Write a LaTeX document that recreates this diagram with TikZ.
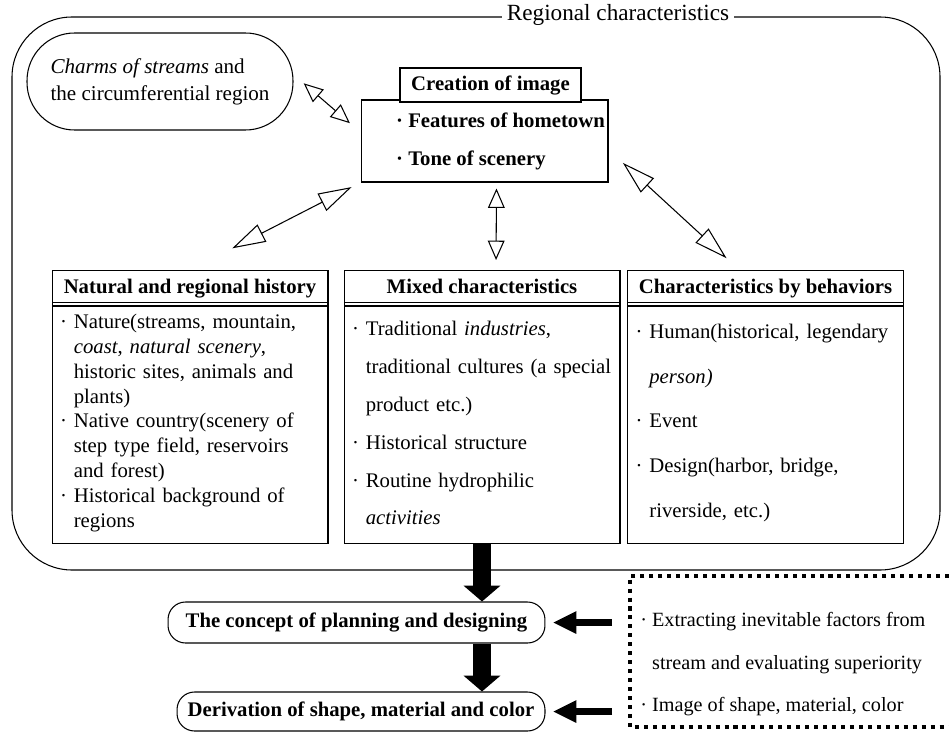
\documentclass[tikz,border=0pt]{standalone}
\usepackage{fontspec}
\setmainfont{Liberation Serif}
\usepackage{tikz}
\usetikzlibrary{arrows.meta, calc}

\newcommand{\itemdot}{·\ }
\newcommand{\itemcont}{\phantom{·}\ }

\begin{document}
\begin{tikzpicture}[
  x=0.02cm, y=-0.02cm,
  font=\fontsize{11.8}{14.2}\selectfont,
  region/.style   = {draw, line width=0.6pt, rounded corners=1.2cm},
  pill/.style     = {draw, line width=0.6pt, rounded corners=0.35cm,
                     font=\fontsize{11.8}{14.2}\selectfont\bfseries},
  hbox/.style     = {draw, line width=0.6pt, anchor=north, minimum width=5.52cm,
                     minimum height=0.71cm, text height=8.5pt, text depth=2.6pt,
                     font=\fontsize{11.8}{14.2}\selectfont\bfseries},
  bbox/.style     = {draw, line width=0.6pt, anchor=north, align=left,
                     text width=5.2cm, inner xsep=0.16cm, minimum width=5.52cm,
                     minimum height=4.82cm},
  oarr/.style     = {<->, >={Triangle[open, length=19pt, width=11pt]},
                     line width=0.6pt},
  oarrs/.style    = {<->, >={Triangle[open, length=11pt, width=9.5pt]},
                     line width=0.6pt},
  barr/.style     = {-{Triangle[length=9pt, width=21pt, line width=0pt]},
                     line width=10.8pt},
  larr/.style     = {-{Triangle[length=13pt, width=13pt, line width=0pt]},
                     line width=4pt},
  dotframe/.style = {line width=2.3pt, dash pattern=on 2.3pt off 2.8pt},
]
\useasboundingbox (0,0) rectangle (949,733);

%% outer region
\draw[region] (12,17) rectangle (940,570);
\node[fill=white, inner xsep=3pt, inner ysep=1pt,
      font=\fontsize{13.2}{15}\selectfont] (title) at (618,15)
  {Regional characteristics};

\node[draw, line width=0.6pt, rounded corners=0.95cm, align=left,
      minimum width=5.32cm, minimum height=1.94cm,
      font=\fontsize{12}{15.4}\selectfont] (charms) at (160,81.5)
  {\textit{Charms of streams} and\\the circumferential region};

\node[draw, line width=0.6pt, align=left, inner xsep=0.05cm,
      minimum width=4.94cm, minimum height=1.64cm,
      font=\fontsize{11.8}{21.6}\selectfont\bfseries] (crb) at (484.5,141)
  {\hspace*{0.64cm}\itemdot Features of hometown\\
   \hspace*{0.64cm}\itemdot Tone of scenery};
\node[draw, fill=white, line width=0.6pt, minimum width=3.62cm,
      minimum height=0.68cm,
      font=\fontsize{11.8}{14.2}\selectfont\bfseries] (crt) at (490.5,85)
  {Creation of image};

%% three groups
\node[bbox] (natb) at (190,302)
  {\itemdot Nature(streams, mountain,\\
   \itemcont\textit{coast}, \textit{natural scenery},\\
   \itemcont historic sites, animals and\\
   \itemcont plants)\\
   \itemdot Native country(scenery of\\
   \itemcont step type field, reservoirs\\
   \itemcont and forest)\\
   \itemdot Historical background of\\
   \itemcont regions};
\node[hbox] (nath) at (190,270) {Natural and regional history};

\node[bbox, font=\fontsize{11.8}{21.6}\selectfont] (mixb) at (482,302)
  {\itemdot Traditional \textit{industries},\\
   \itemcont traditional cultures (a special\\
   \itemcont product etc.)\\
   \itemdot Historical structure\\
   \itemdot Routine hydrophilic\\
   \itemcont\textit{activities}};
\node[hbox] (mixh) at (482,270) {Mixed characteristics};

\node[bbox, font=\fontsize{11.8}{25.5}\selectfont] (behb) at (765.5,302)
  {\itemdot Human(historical, legendary\\
   \itemcont\textit{person)}\\
   \itemdot Event\\
   \itemdot Design(harbor, bridge,\\
   \itemcont riverside, etc.)};
\node[hbox] (behh) at (765.5,270) {Characteristics by behaviors};

\draw[oarrs, shorten <=0.27cm, shorten >=0.28cm] (charms.3) -- (crb.176);
\draw[oarr, shorten <=0.2cm, shorten >=0.95cm] (crb.south west) -- (nath.north);
\draw[oarrs, shorten <=0.12cm, shorten >=0.2cm]
  ($(crb.south)+(12,0)$) -- ($(mixh.north)+(14,0)$);
\draw[oarr, shorten <=0.39cm, shorten >=0.35cm] (crb.-4) -- (behh.145);

%% planning flow
\node[pill, minimum width=7.54cm, minimum height=0.82cm] (concept)
  at (356.5,622.5) {The concept of planning and designing};
\node[pill, minimum width=7.36cm, minimum height=0.78cm] (deriv)
  at (361,711.5) {Derivation of shape, material and color};

\draw[barr] (mixb.south) -- (mixb.south |- concept.north);
\draw[barr] (mixb.south |- concept.south) -- (mixb.south |- deriv.north);

\node[anchor=west, align=left, inner xsep=0.2cm,
      font=\fontsize{11.5}{24.2}\selectfont] (facts) at (630,664.5)
  {\itemdot Extracting inevitable factors from\\
   \itemcont stream and evaluating superiority\\
   \itemdot Image of shape, material, color};
\draw[dotframe] (949,576) -| (630,727) -- (949,727);

\draw[larr, shorten <=0.36cm, shorten >=0.16cm]
  (concept.east -| facts.west) -- (concept.east);
\draw[larr, shorten <=0.36cm, shorten >=0.16cm]
  (deriv.east -| facts.west) -- (deriv.east);

\end{tikzpicture}
\end{document}
